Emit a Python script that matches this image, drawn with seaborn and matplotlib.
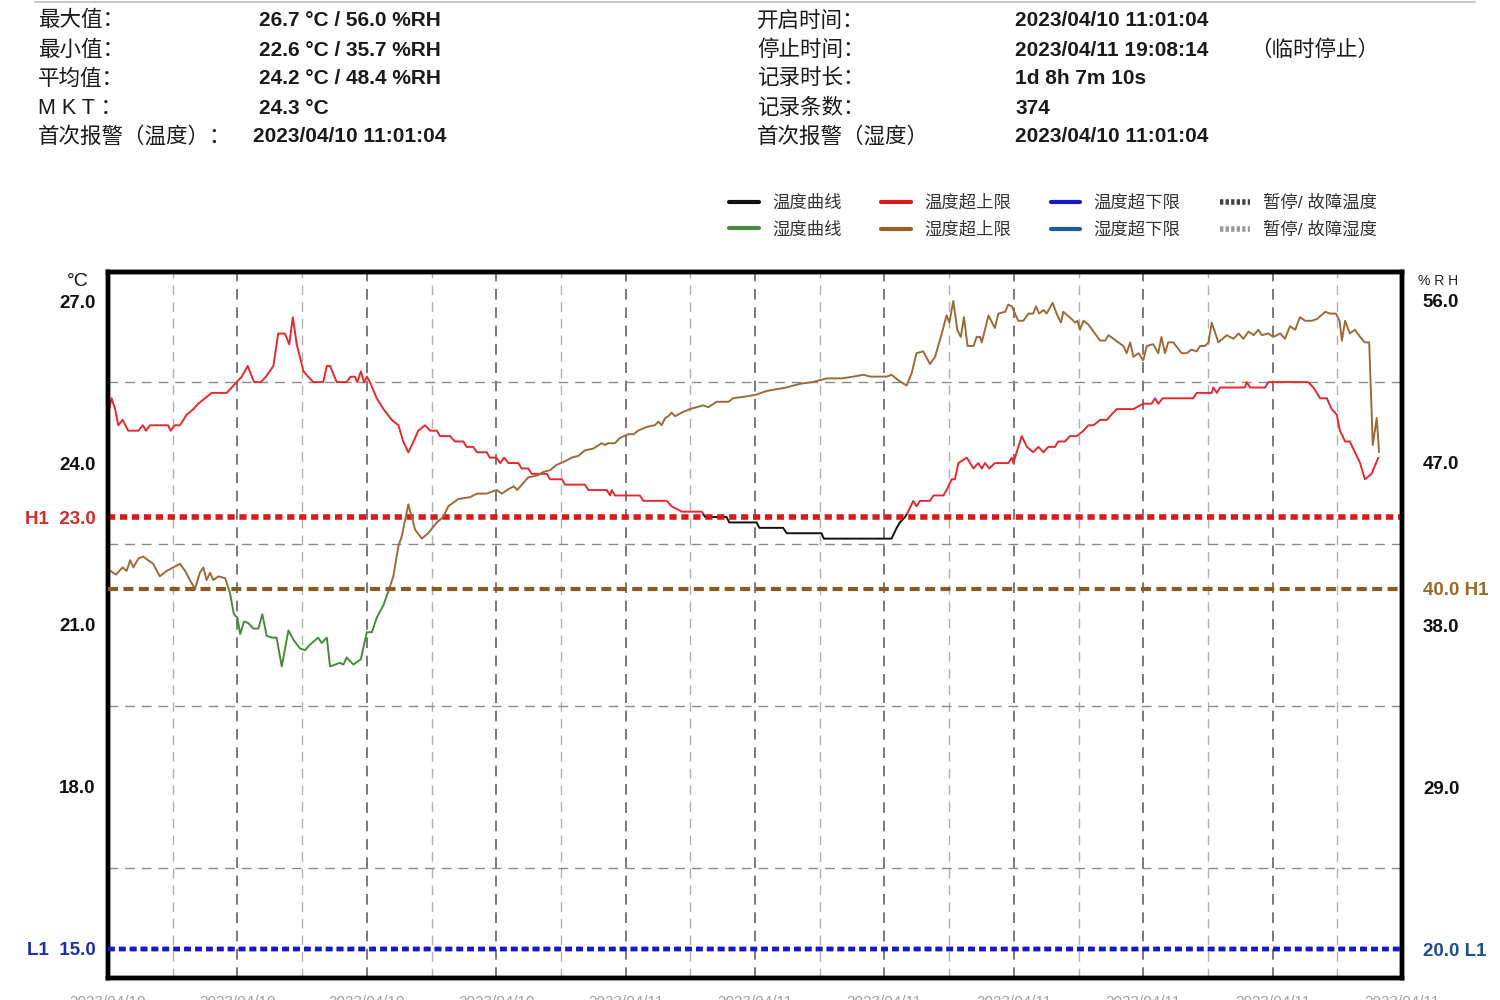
import numpy as np
import pandas as pd
import seaborn as sns
import matplotlib.pyplot as plt
from matplotlib.lines import Line2D
from matplotlib.patches import Rectangle

# ---- data (hours since 2023/04/10 11:01:04) ----
temp_hours = [0.00, 0.09, 0.18, 0.26, 0.37, 0.51, 0.77, 0.88, 0.96, 1.06, 1.52, 1.58, 1.69, 1.82,
              1.99, 2.16, 2.28, 2.45, 2.62, 3.00, 3.25, 3.38, 3.53, 3.69, 3.86, 3.99, 4.18, 4.30,
              4.47, 4.58, 4.67, 4.77, 4.94, 5.06, 5.19, 5.44, 5.53, 5.61, 5.78, 6.03, 6.13, 6.24,
              6.30, 6.39, 6.47, 6.54, 6.62, 6.79, 6.96, 7.17, 7.34, 7.46, 7.59, 7.72, 7.84, 8.01,
              8.14, 8.31, 8.39, 8.64, 8.77, 8.98, 9.06, 9.23, 9.32, 9.57, 9.65, 9.82, 9.91, 10.01,
              10.12, 10.37, 10.45, 10.62, 10.71, 11.09, 11.17, 11.47, 11.55, 12.05, 12.14, 12.60,
              12.69, 12.73, 12.81, 13.44, 13.53, 14.12, 14.24, 14.50, 15.00, 15.09, 15.63, 15.70,
              16.39, 16.46, 17.06, 17.15, 18.03, 18.09, 19.80, 19.93, 20.01, 20.14, 20.22, 20.35,
              20.43, 20.52, 20.77, 20.86, 21.11, 21.19, 21.32, 21.40, 21.49, 21.70, 21.87, 21.99,
              22.08, 22.16, 22.27, 22.41, 22.75, 22.84, 22.88, 22.96, 23.09, 23.22, 23.38, 23.51,
              23.64, 23.76, 23.93, 24.01, 24.18, 24.31, 24.48, 24.65, 24.77, 24.90, 25.07, 25.24,
              25.36, 25.49, 25.91, 26.16, 26.37, 26.46, 26.54, 26.65, 27.42, 27.51, 27.89, 27.93,
              28.02, 28.10, 28.73, 28.77, 28.86, 29.24, 29.32, 30.33, 30.46, 30.63, 30.80, 30.92,
              31.05, 31.13, 31.26, 31.38, 31.51, 31.64, 31.76, 31.93, 32.10]
temp_values = [24.9, 25.2, 25.0, 24.7, 24.8, 24.6, 24.6, 24.7, 24.6, 24.7, 24.7, 24.6, 24.7, 24.7,
               24.9, 25.0, 25.1, 25.2, 25.3, 25.3, 25.5, 25.6, 25.8, 25.5, 25.5, 25.6, 25.8, 26.4,
               26.4, 26.2, 26.7, 26.2, 25.7, 25.6, 25.5, 25.5, 25.8, 25.8, 25.5, 25.5, 25.6, 25.6,
               25.5, 25.7, 25.5, 25.6, 25.5, 25.2, 25.0, 24.8, 24.7, 24.4, 24.2, 24.4, 24.6, 24.7,
               24.6, 24.6, 24.5, 24.5, 24.4, 24.4, 24.3, 24.3, 24.2, 24.2, 24.1, 24.1, 24.0, 24.1,
               24.0, 24.0, 23.9, 23.9, 23.8, 23.8, 23.7, 23.7, 23.6, 23.6, 23.5, 23.5,
               23.4, 23.5, 23.4, 23.4, 23.3, 23.3, 23.2, 23.1, 23.1, 23.0, 23.0, 22.9,
               22.9, 22.8, 22.8, 22.7, 22.7, 22.6, 22.6, 22.8, 22.9, 23.0, 23.1, 23.3,
               23.2, 23.3, 23.3, 23.4, 23.4, 23.5, 23.7, 23.7, 24.0, 24.1, 23.9, 24.0,
               23.9, 24.0, 23.9, 24.0, 24.0, 24.1, 24.0, 24.2, 24.5, 24.3, 24.2, 24.3,
               24.2, 24.3, 24.3, 24.4, 24.4, 24.5, 24.5, 24.6, 24.7, 24.7, 24.8, 24.8,
               24.9, 25.0, 25.0, 25.1, 25.1, 25.2, 25.1, 25.2, 25.2, 25.3, 25.3, 25.4,
               25.3, 25.4, 25.4, 25.5, 25.4, 25.4, 25.5, 25.5, 25.4, 25.2, 25.2, 25.0,
               24.9, 24.6, 24.4, 24.4, 24.2, 24.0, 23.7, 23.8, 24.1]

hum_hours = [0.00, 0.20, 0.37, 0.47, 0.56, 0.64, 0.77, 0.89, 1.14, 1.31, 1.48, 1.65, 1.82, 1.95,
             2.07, 2.20, 2.32, 2.41, 2.49, 2.58, 2.66, 2.79, 2.96, 3.08, 3.18, 3.27, 3.34, 3.44,
             3.55, 3.67, 3.80, 3.90, 4.01, 4.14, 4.26, 4.39, 4.56, 4.68, 4.85, 4.98, 5.10, 5.31,
             5.40, 5.53, 5.61, 5.74, 5.86, 5.95, 6.03, 6.20, 6.39, 6.54, 6.67, 6.79, 6.96, 7.09,
             7.21, 7.34, 7.42, 7.59, 7.76, 7.93, 8.09, 8.31, 8.47, 8.60, 8.85, 9.15, 9.32, 9.57,
             9.82, 9.95, 10.16, 10.26, 10.34, 10.50, 10.62, 10.84, 11.00, 11.17, 11.34, 11.55,
             11.72, 11.89, 12.05, 12.26, 12.48, 12.56, 12.64, 12.81, 12.94, 13.15, 13.28, 13.40,
             13.61, 13.82, 13.91, 13.99, 14.08, 14.16, 14.24, 14.33, 14.50, 14.71, 14.88, 15.04,
             15.17, 15.38, 15.68, 15.80, 16.14, 16.39, 16.64, 16.90, 17.15, 17.49, 17.82, 18.16,
             18.54, 18.84, 19.09, 19.26, 19.51, 19.68, 19.80, 19.97, 20.18, 20.31, 20.43, 20.60,
             20.77, 20.90, 21.07, 21.19, 21.26, 21.36, 21.46, 21.55, 21.63, 21.72, 21.87, 21.95,
             22.04, 22.08, 22.25, 22.41, 22.50, 22.67, 22.75, 22.84, 23.00, 23.13, 23.26, 23.38,
             23.45, 23.53, 23.64, 23.72, 23.87, 23.97, 24.08, 24.14, 24.35, 24.44, 24.50, 24.56,
             24.65, 24.77, 25.07, 25.20, 25.28, 25.41, 25.53, 25.66, 25.74, 25.83, 25.91, 26.04,
             26.16, 26.25, 26.41, 26.54, 26.62, 26.71, 26.79, 26.92, 27.13, 27.26, 27.38, 27.51,
             27.60, 27.72, 27.81, 27.89, 28.06, 28.27, 28.44, 28.57, 28.69, 28.82, 28.95, 29.07,
             29.16, 29.32, 29.45, 29.62, 29.74, 29.87, 30.00, 30.12, 30.25, 30.42, 30.55, 30.76,
             30.88, 31.03, 31.12, 31.18, 31.26, 31.38, 31.51, 31.64, 31.76, 31.87, 31.96, 32.06,
             32.12]
hum_values = [41.1, 40.8, 41.2, 41.0, 41.6, 41.2, 41.7, 41.8, 41.4, 40.7, 41.0, 41.2, 41.4, 41.0,
              40.5, 40.0, 40.9, 41.2, 40.5, 40.9, 40.5, 40.7, 40.6, 39.8, 38.6, 38.4, 37.5, 38.2,
              38.1, 37.8, 37.8, 38.6, 37.4, 37.3, 37.3, 35.7, 37.7, 37.2, 36.7, 36.6, 36.9, 37.3,
              37.0, 37.3, 35.7, 35.8, 35.9, 35.8, 36.2, 35.8, 36.1, 37.6, 37.6, 38.4, 39.1, 39.9,
              40.7, 42.4, 42.9, 44.7, 43.3, 42.8, 43.1, 43.7, 44.0, 44.6, 45.0, 45.1, 45.3, 45.3,
              45.5, 45.3, 45.6, 45.7, 45.5, 45.9, 46.2, 46.3, 46.5, 46.6, 46.9, 47.1,
              47.3, 47.4, 47.7, 47.8, 48.1, 48.0, 48.1, 48.1, 48.4, 48.6, 48.6, 48.8,
              49.0, 49.1, 49.3, 49.1, 49.5, 49.6, 49.8, 49.6, 49.8, 50.0, 50.1, 50.2,
              50.1, 50.4, 50.4, 50.6, 50.7, 50.8, 51.0, 51.1, 51.2, 51.4, 51.5, 51.7,
              51.7, 51.8, 51.9, 51.8, 51.8, 51.8, 51.9, 51.6, 51.3, 52.0, 53.1, 53.2,
              52.5, 52.9, 54.2, 55.2, 54.8, 56.0, 54.4, 54.0, 55.1, 53.5, 53.5, 54.0,
              54.0, 53.7, 55.2, 54.5, 55.3, 55.4, 55.8, 55.7, 54.9, 54.9, 55.3, 55.3,
              55.7, 55.3, 55.5, 55.3, 55.9, 55.3, 54.8, 55.4, 55.0, 54.8, 54.9, 54.4,
              54.9, 54.7, 53.8, 53.8, 54.1, 53.9, 53.7, 53.5, 53.1, 53.7, 52.9, 53.1,
              52.7, 53.5, 53.6, 53.1, 54.0, 53.1, 53.7, 53.7, 53.1, 53.1, 53.3, 53.2,
              53.5, 53.5, 53.7, 54.8, 53.7, 54.1, 53.9, 54.2, 53.9, 54.3, 54.1, 54.4,
              54.1, 54.2, 54.0, 54.2, 53.9, 54.6, 54.4, 55.1, 54.9, 54.9, 55.0, 55.4,
              55.3, 55.3, 54.9, 53.8, 54.9, 54.2, 54.4, 54.0, 53.7, 53.7, 48.0, 49.5,
              47.6]

temp_h1, temp_l1 = 23.0, 15.0
hum_h1, hum_l1 = 40.0, 20.0

x_tick_labels = ["2023/04/10\n11:01:04", "2023/04/10\n14:17:16", "2023/04/10\n17:33:28",
                 "2023/04/10\n20:49:40", "2023/04/11\n00:05:52", "2023/04/11\n03:22:04",
                 "2023/04/11\n06:38:16", "2023/04/11\n09:54:28", "2023/04/11\n13:10:40",
                 "2023/04/11\n16:26:52", "2023/04/11\n19:43:04"]

summary_left = [("最大值：", "26.7 °C / 56.0 %RH"),
                ("最小值：", "22.6 °C / 35.7 %RH"),
                ("平均值：", "24.2 °C / 48.4 %RH"),
                ("M K T ：", "24.3 °C"),
                ("首次报警（温度）：", "2023/04/10 11:01:04")]
summary_right = [("开启时间：", "2023/04/10 11:01:04"),
                 ("停止时间：", "2023/04/11 19:08:14"),
                 ("记录时长：", "1d 8h 7m 10s"),
                 ("记录条数：", "374"),
                 ("首次报警（湿度）", "2023/04/10 11:01:04")]

temp_df = pd.DataFrame({"hours": temp_hours, "temp": temp_values})
hum_df = pd.DataFrame({"hours": hum_hours, "hum": hum_values})

# ---- style ----
sns.set_style("white")
plt.rcParams['font.family'] = ['Liberation Sans', 'Noto Sans CJK SC', 'DejaVu Sans']

RED = '#e22a30'
BLACK = '#111111'
BROWN = '#9e6a36'
GREEN = '#4a8a3e'
RED_LIM = '#d81a1a'
BROWN_LIM = '#8c5a1e'
BLUE_LIM = '#1818c4'

X_END = 32.70
T_LIM = (14.46, 27.54)
H_LIM = (18.39, 57.61)

fig = plt.figure(figsize=(15, 10), dpi=100)
ax = fig.add_axes([0.072, 0.022, 0.8627, 0.706])
ax2 = ax.twinx()

# temperature curve: red above H1, black otherwise
sns.lineplot(data=temp_df, x="hours", y="temp", color=RED, lw=1.4, estimator=None, ax=ax)
sns.lineplot(data=temp_df, x="hours", y="temp", color=BLACK, lw=1.4, estimator=None, ax=ax)
red_line, black_line = ax.lines[-2], ax.lines[-1]
red_line.set_clip_path(Rectangle((-1, temp_h1 + 0.05), X_END + 2, 20, transform=ax.transData))
black_line.set_clip_path(Rectangle((-1, 0), X_END + 2, temp_h1 + 0.05, transform=ax.transData))

# humidity curve: brown above H1, green otherwise
sns.lineplot(data=hum_df, x="hours", y="hum", color=BROWN, lw=1.4, estimator=None, ax=ax2)
sns.lineplot(data=hum_df, x="hours", y="hum", color=GREEN, lw=1.4, estimator=None, ax=ax2)
brown_line, green_line = ax2.lines[-2], ax2.lines[-1]
brown_line.set_clip_path(Rectangle((-1, hum_h1 + 0.05), X_END + 2, 50, transform=ax2.transData))
green_line.set_clip_path(Rectangle((-1, 0), X_END + 2, hum_h1 + 0.05, transform=ax2.transData))

# limit lines
ax.axhline(temp_h1, color=RED_LIM, lw=4.0, ls=(0, (1.3, 0.85)), dash_capstyle='butt', zorder=3)
ax2.axhline(hum_h1, color=BROWN_LIM, lw=3.0, ls=(0, (2.4, 1.3)), dash_capstyle='butt', zorder=3)
ax.axhline(temp_l1, color=BLUE_LIM, lw=3.2, ls=(0, (1.5, 0.95)), dash_capstyle='butt', zorder=3)
ax2.axhline(hum_l1, color=BLUE_LIM, lw=3.2, ls=(0, (1.5, 0.95)), dash_capstyle='butt', zorder=3)

# axes limits, ticks, grid
ax.set_xlim(0, X_END)
ax.set_ylim(*T_LIM)
ax2.set_ylim(*H_LIM)
ax.set_xlabel("")
ax.set_ylabel("")
ax2.set_ylabel("")

ax.set_xticks(np.linspace(0, X_END, 11), labels=x_tick_labels)
ax.set_xticks(np.linspace(0, X_END, 21), minor=True)
ax.set_yticks(np.arange(15, 27.1, 1.5), minor=True)
ax.set_yticks([15, 18, 21, 23, 24, 27], labels=["L1  15.0", "18.0", "21.0", "H1  23.0", "24.0", "27.0"])
ax2.set_yticks([20, 29, 38, 40, 47, 56], labels=["20.0 L1", "29.0", "38.0", "40.0 H1", "47.0", "56.0"])

ax.grid(axis='x', which='major', color='#555555', lw=1.1, ls=(0, (7, 5)))
ax.grid(axis='x', which='minor', color='#b0b0b0', lw=1.0, ls=(0, (7, 5)))
ax.grid(axis='y', which='minor', color='#8a8a8a', lw=1.0, ls=(0, (7, 5)))
ax.set_axisbelow(True)

ax.tick_params(axis='x', which='both', length=0, pad=12, labelsize=11, labelcolor='#a0a0a0')
ax.tick_params(axis='y', which='both', length=0, pad=9, labelsize=13.5)
ax2.tick_params(axis='y', which='both', length=0, pad=15, labelsize=13.5)
for lbl in ax.get_yticklabels() + ax2.get_yticklabels():
    lbl.set_fontweight('bold')
    lbl.set_color('#111111')
ax.get_yticklabels()[0].set_color('#1c2fa8')
ax.get_yticklabels()[3].set_color('#d42a2a')
ax2.get_yticklabels()[0].set_color('#1f4f90')
ax2.get_yticklabels()[3].set_color('#9a6a2a')

for a in (ax, ax2):
    for sp in a.spines.values():
        sp.set_color('black')
        sp.set_linewidth(3.2)

fig.text(78 / 1500, 1 - 281 / 1000, "°C", ha='center', va='center', fontsize=14, color='#111111')
fig.text(1418 / 1500, 1 - 281 / 1000, "% R H", ha='left', va='center', fontsize=10, color='#222222')

# ---- header summary ----
fig.add_artist(Line2D([35 / 1500, 1475 / 1500], [0.998, 0.998], color='#c8c8c8', lw=1.5))
rows_y = [21, 50, 79, 108, 137]
for (lab, val), y in zip(summary_left, rows_y):
    fig.text(38 / 1500, 1 - y / 1000, lab, ha='left', va='center', fontsize=15.5, color='#1a1a1a')
    vx = 253 if lab.startswith("首次") else 259
    fig.text(vx / 1500, 1 - y / 1000, val, ha='left', va='center', fontsize=15, fontweight='bold',
             color='#1a1a1a')
for (lab, val), y in zip(summary_right, rows_y):
    fig.text(757 / 1500, 1 - y / 1000, lab, ha='left', va='center', fontsize=15.5, color='#1a1a1a')
    fig.text(1015 / 1500, 1 - y / 1000, val, ha='left', va='center', fontsize=15, fontweight='bold',
             color='#1a1a1a')
fig.text(1250 / 1500, 1 - 50 / 1000, "（临时停止）", ha='left', va='center', fontsize=15.5, color='#1a1a1a')

# ---- legend ----
handles = [
    Line2D([], [], color=BLACK, lw=3),
    Line2D([], [], color=GREEN, lw=3),
    Line2D([], [], color=RED_LIM, lw=3),
    Line2D([], [], color='#9a5f22', lw=3),
    Line2D([], [], color=BLUE_LIM, lw=3),
    Line2D([], [], color='#1f5a9a', lw=3),
    Line2D([], [], color='#444444', lw=4, ls=(0, (0.6, 0.4))),
    Line2D([], [], color='#999999', lw=4, ls=(0, (0.6, 0.4))),
]
labels = ["温度曲线", "湿度曲线", "温度超上限", "湿度超上限",
          "温度超下限", "湿度超下限", "暂停/ 故障温度", "暂停/ 故障湿度"]
fig.legend(handles, labels, ncol=4, loc='center', bbox_to_anchor=(1053 / 1500, 1 - 216 / 1000),
           frameon=False, fontsize=12.5, handlelength=1.7, handletextpad=0.75,
           columnspacing=2.3, labelspacing=0.6, labelcolor='#333333')

fig.savefig("out.png", dpi=100)
